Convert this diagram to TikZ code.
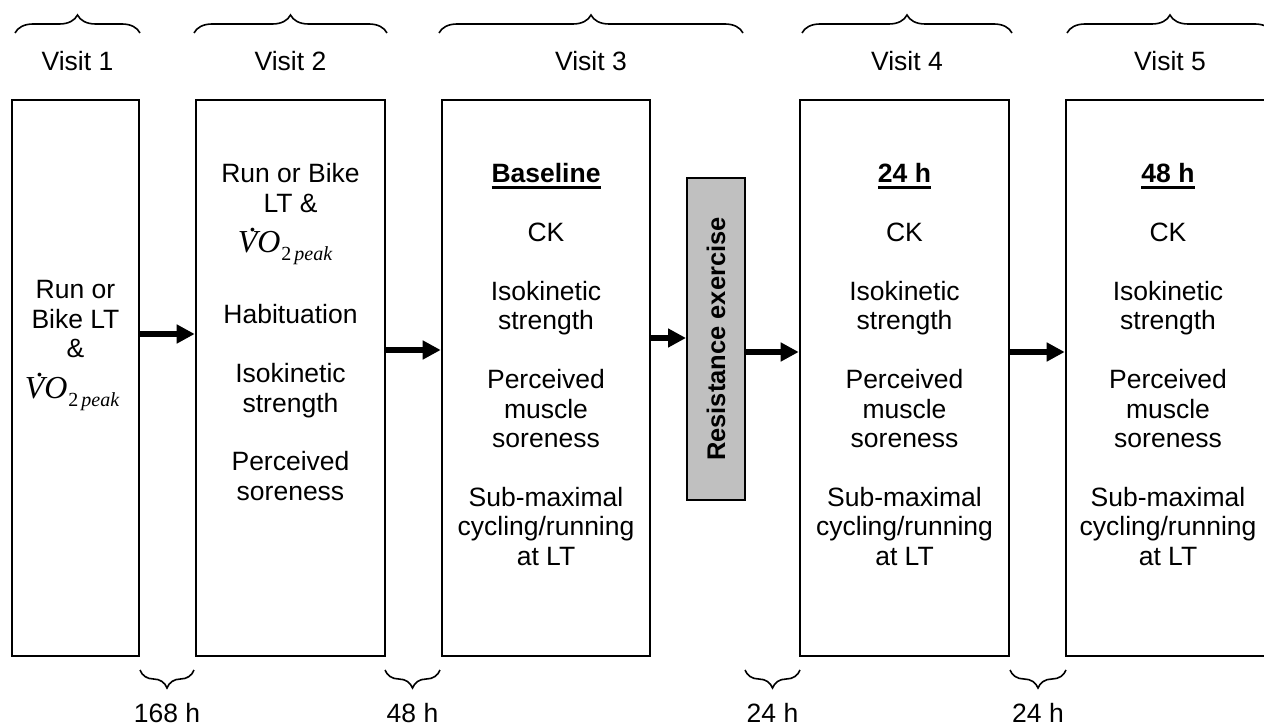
\documentclass[tikz,border=0pt]{standalone}
\usepackage{fontspec}
\setmainfont{Liberation Sans}
\newfontfamily\tnrfont{Liberation Serif}
\usetikzlibrary{arrows.meta,decorations.pathreplacing}
\newcommand{\myul}[1]{\setbox0\hbox{#1}\rlap{\rule[-6pt]{\wd0}{2.7pt}}\box0}
\newcommand{\colt}[1]{\begin{tabular}[t]{@{}c@{}}#1\end{tabular}}
\newcommand{\vopk}{{\tnrfont\fontsize{32}{34}\selectfont\itshape\rlap{\kern11.5pt\raisebox{21pt}{.}}V\kern0pt O\kern1pt\raisebox{-8pt}{\fontsize{20}{22}\selectfont\upshape 2\kern3pt\itshape peak}}}
\begin{document}
\begin{tikzpicture}[x=1pt,y=-1pt,
  box/.style={draw,line width=2.6pt,inner sep=0pt,minimum height=556pt},
  txt/.style={inner sep=0pt,anchor=base,font=\fontsize{26.5}{29.4}\selectfont},
  arr/.style={line width=5.5pt,-{Triangle[length=18pt,width=18pt]}},
  brc/.style={decorate,decoration={brace,amplitude=18pt},line width=1.6pt},
  ]
\useasboundingbox (0,0) rectangle (1264,727);
% boxes
\node[box,minimum width=127pt] (v1) at (75.5,378) {};
\node[box,minimum width=189pt] (v2) at (290.5,378) {};
\node[box,minimum width=208pt] (v3) at (546,378) {};
\node[box,minimum width=209pt] (v4) at (904.5,378) {};
\node[box,minimum width=206pt] (v5) at (1169,378) {};
\node[draw,line width=2pt,fill={rgb,255:red,192;green,192;blue,192},inner sep=0pt,
      minimum width=58pt,minimum height=322pt] (re) at (716,339) {};
\node[rotate=90,inner sep=0pt,font=\bfseries\fontsize{25.5}{28}\selectfont] (retxt) at (re.center) {Resistance exercise};
% top braces
\draw[brc] (15,33) -- (140,33);
\draw[brc] (194,33) -- (387,33);
\draw[brc] (439,33) -- (743,33);
\draw[brc] (802,33) -- (1012,33);
\draw[brc] (1067,33) -- (1273,33);
\node[txt] (l1) at (77.5,71) {Visit 1};
\node[txt] (l2) at (290.5,71) {Visit 2};
\node[txt] (l3) at (591,71) {Visit 3};
\node[txt] (l4) at (907,71) {Visit 4};
\node[txt] (l5) at (1170,71) {Visit 5};
% bottom braces
\draw[brc] (194,670) -- (140,670);
\draw[brc] (440,670) -- (385,670);
\draw[brc] (800,670) -- (745,670);
\draw[brc] (1066,670) -- (1010,670);
\node[txt] (h1) at (167,722) {168 h};
\node[txt] (h2) at (412.5,722) {48 h};
\node[txt] (h3) at (772.5,722) {24 h};
\node[txt] (h4) at (1038,722) {24 h};
% arrows
\coordinate (ya1) at (0,334);
\coordinate (ya2) at (0,350);
\coordinate (ya3) at (0,338);
\coordinate (ya4) at (0,352);
\draw[arr] (v1.east |- ya1) -- (v2.west |- ya1);
\draw[arr] (v2.east |- ya2) -- (v3.west |- ya2);
\draw[arr] (v3.east |- ya3) -- (re.west |- ya3);
\draw[arr] (re.east |- ya4) -- (v4.west |- ya4);
\draw[arr] (v4.east |- ya4) -- (v5.west |- ya4);
% visit 1 text
\node[txt] (t1) at (75.5,299) {\colt{Run or\\Bike LT\\\&}};
\node[txt] (t1v) at (72,398) {\vopk};
% visit 2 text
\node[txt] (t2a) at (290.5,183) {\colt{Run or Bike\\LT \&}};
\node[txt] (t2v) at (285,253) {\vopk};
\node[txt] (t2b) at (290.5,324) {\colt{Habituation\\[29.4pt]Isokinetic\\strength\\[29.4pt]Perceived\\soreness}};
% visit 3-5 text
\node[txt] (t3) at (546,183) {\colt{\myul{\textbf{Baseline}}\\[29.4pt]CK\\[29.4pt]Isokinetic\\strength\\[29.4pt]Perceived\\muscle\\soreness\\[29.4pt]Sub-maximal\\cycling/running\\at LT}};
\node[txt] (t4) at (904.5,183) {\colt{\myul{\textbf{24 h}}\\[29.4pt]CK\\[29.4pt]Isokinetic\\strength\\[29.4pt]Perceived\\muscle\\soreness\\[29.4pt]Sub-maximal\\cycling/running\\at LT}};
\node[txt] (t5) at (1168,183) {\colt{\myul{\textbf{48 h}}\\[29.4pt]CK\\[29.4pt]Isokinetic\\strength\\[29.4pt]Perceived\\muscle\\soreness\\[29.4pt]Sub-maximal\\cycling/running\\at LT}};
\end{tikzpicture}
\end{document}
